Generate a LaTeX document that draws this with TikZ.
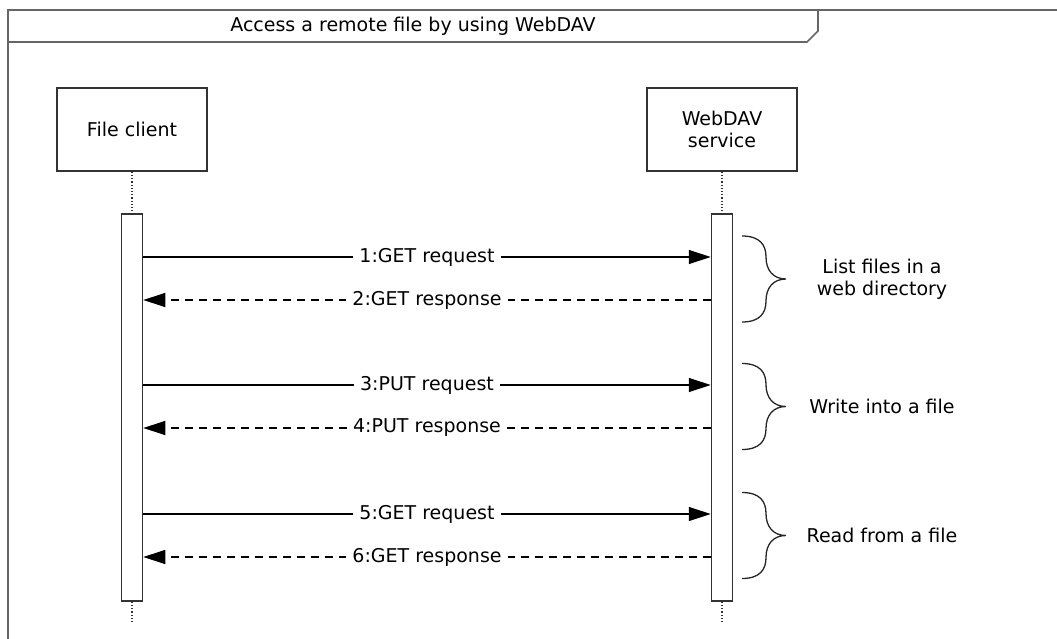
\documentclass[tikz,border=0pt]{standalone}
\usepackage{fontspec}
\setmainfont{DejaVu Sans}
\usetikzlibrary{arrows.meta}

\begin{document}
\begin{tikzpicture}[x=1pt, y=-1pt, font=\fontsize{19}{22}\selectfont]
            \tikzset{frame/.style={black!60, line width=1.6pt}}
            \tikzset{lifebox/.style={draw=black!80, line width=1.5pt, minimum width=150pt, minimum height=83pt, align=center}}
            \tikzset{actbar/.style={draw=black!80, line width=1.5pt, fill=white, minimum width=21pt, minimum height=387pt, inner sep=0pt}}
            \tikzset{lifeline/.style={black!80, line width=1.2pt, dotted}}
            \tikzset{call/.style={line width=1.2pt, -{Triangle[length=22pt, width=14pt]}}}
            \tikzset{reply/.style={call, dash pattern=on 8pt off 6pt}}
            \tikzset{msglabel/.style={fill=white, inner xsep=6pt, inner ysep=1pt}}
            \tikzset{brace/.style={black!85, line width=1.3pt}}
            \useasboundingbox (0, 0) rectangle (1057, 639);
            % frame and title tab
            \draw[frame] (8, 639) -- (8, 10) -- (1057, 10);
            \draw[frame] (8, 42) -- (807, 42) -- (818, 31) -- (818, 10);
            \node (title) at (413, 26) {Access a remote file by using WebDAV};
            % lifelines
            \node[lifebox] (client) at (132, 129.5) {File client};
            \node[lifebox] (service) at (722, 129.5) {WebDAV\\service};
            \node[actbar] (clientbar) at (132, 407.5) {};
            \node[actbar] (servicebar) at (722, 407.5) {};
            \coordinate (clientend) at (132, 622);
            \coordinate (serviceend) at (722, 622);
            \draw[lifeline] (client) -- (clientbar);
            \draw[lifeline] (clientbar) -- (clientend);
            \draw[lifeline] (service) -- (servicebar);
            \draw[lifeline] (servicebar) -- (serviceend);
            % messages
            \foreach \y/\txt in {257/1:GET request, 385/3:PUT request, 514/5:GET request}
                \draw[call] (clientbar.east |- 0,\y) -- node[msglabel] {\txt} (servicebar.west |- 0,\y);
            \foreach \y/\txt in {300/2:GET response, 428/4:PUT response, 557/6:GET response}
                \draw[reply] (servicebar.west |- 0,\y) -- node[msglabel] {\txt} (clientbar.east |- 0,\y);
            % braces
            \foreach \c/\txt in {279/{List files in a\\web directory}, 406.5/{Write into a file}, 535.5/{Read from a file}} {
                \draw[brace] (742, \c-43) .. controls (760, \c-43) and (766, \c-34) .. (766, \c-22)
                    .. controls (766, \c-9) and (773, \c) .. (786, \c)
                    .. controls (773, \c) and (766, \c+9) .. (766, \c+22)
                    .. controls (766, \c+34) and (760, \c+43) .. (742, \c+43);
                \node[align=center] at (882, \c) {\txt};
            }
        \end{tikzpicture}
\end{document}
